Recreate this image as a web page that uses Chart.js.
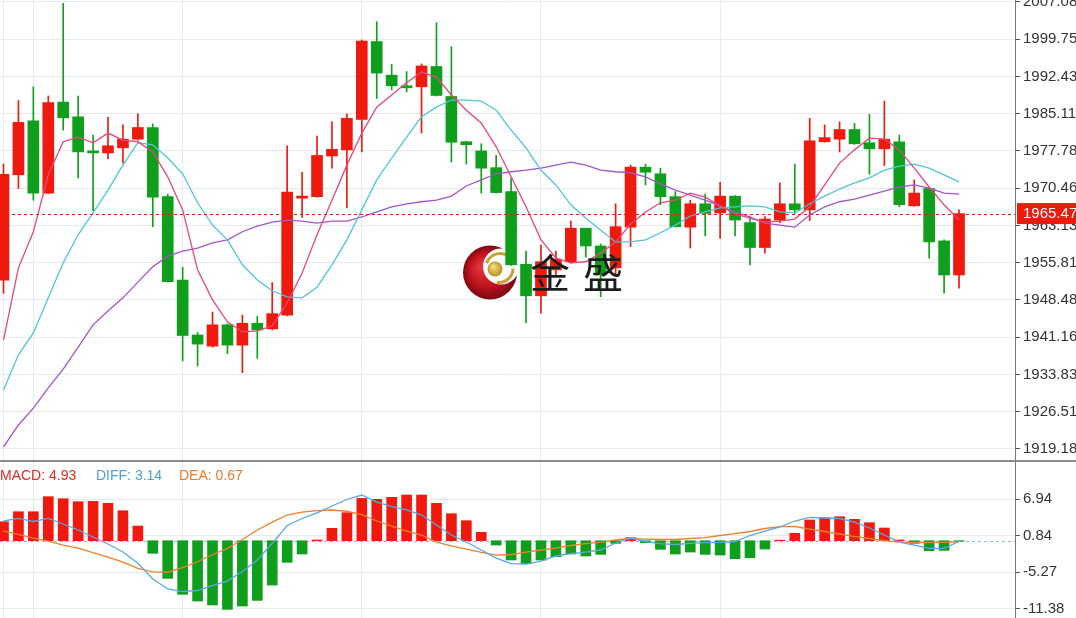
<!DOCTYPE html>
<html>
<head>
<meta charset="utf-8">
<title>K线 MACD</title>
<script src="https://cdn.jsdelivr.net/npm/chart.js"></script>
<style>
  html, body { margin: 0; padding: 0; background: #fff; }
  #wrap { position: relative; width: 1076px; height: 618px; overflow: hidden; }
  #mainBox { position: absolute; left: 0; top: 0; width: 1076px; height: 461px; }
  #macdBox { position: absolute; left: 0; top: 462px; width: 1076px; height: 156px; }
  #divider { position: absolute; left: 0; top: 460px; width: 1076px; height: 2px; background: #8a8a8a; }
</style>
</head>
<body>
<div id="wrap">
  <div id="mainBox"><canvas id="mainChart" width="1076" height="461"></canvas></div>
  <div id="divider"></div>
  <div id="macdBox"><canvas id="macdChart" width="1076" height="156"></canvas></div>
</div>
<script>
// K线数据（开、高、低、收）
const opens = [1952.4, 1973.1, 1983.7, 1969.5, 1987.4, 1984.5, 1977.8, 1977.4, 1978.4, 1980.1,
  1982.4, 1968.8, 1952.4, 1941.6, 1939.4, 1943.6, 1939.6, 1943.9, 1942.8, 1945.5,
  1968.5, 1968.8, 1976.8, 1978.0, 1984.0, 1999.3, 1992.7, 1990.6, 1990.4, 1994.4,
  1988.5, 1979.6, 1977.8, 1974.5, 1969.8, 1955.5, 1949.3, 1954.4, 1956.0, 1962.6,
  1959.1, 1954.8, 1962.8, 1974.6, 1973.3, 1968.8, 1962.8, 1967.4, 1965.6, 1968.9,
  1963.7, 1958.8, 1964.2, 1967.4, 1966.2, 1979.6, 1980.1, 1982.0, 1979.4, 1978.2,
  1979.6, 1967.0, 1970.4, 1960.1, 1953.4];
const highs = [1975.2, 1987.7, 1990.4, 1988.6, 2006.8, 1988.6, 1980.9, 1984.4, 1982.9, 1985.1,
  1983.1, 1969.3, 1954.9, 1942.1, 1946.1, 1943.8, 1945.5, 1945.3, 1951.9, 1978.8,
  1973.6, 1980.7, 1983.5, 1985.1, 1999.6, 2003.2, 1994.8, 1993.4, 1994.9, 2003.0,
  1998.3, 1979.7, 1979.2, 1976.9, 1972.4, 1958.1, 1959.3, 1958.1, 1964.0, 1962.6,
  1959.5, 1967.4, 1975.0, 1975.2, 1974.4, 1969.8, 1968.1, 1969.3, 1971.6, 1969.0,
  1965.0, 1964.9, 1971.5, 1975.2, 1984.2, 1982.9, 1983.5, 1983.2, 1985.0, 1987.6,
  1980.9, 1972.1, 1970.7, 1960.3, 1966.2];
const lows = [1949.8, 1970.4, 1968.1, 1969.4, 1981.9, 1972.5, 1966.0, 1976.2, 1975.4, 1979.9,
  1962.9, 1952.0, 1936.5, 1935.5, 1939.2, 1937.9, 1934.2, 1937.0, 1942.6, 1945.4,
  1964.7, 1968.7, 1974.4, 1966.6, 1977.6, 1988.1, 1989.8, 1989.4, 1981.3, 1988.6,
  1975.6, 1975.2, 1969.5, 1969.5, 1955.3, 1944.0, 1945.9, 1953.4, 1955.7, 1956.9,
  1949.1, 1953.4, 1959.0, 1971.1, 1967.2, 1962.8, 1958.7, 1961.1, 1960.6, 1961.1,
  1955.4, 1957.7, 1963.7, 1965.5, 1964.1, 1979.5, 1977.6, 1979.1, 1973.2, 1974.9,
  1966.8, 1966.9, 1956.7, 1949.8, 1950.8];
const closes = [1973.2, 1983.4, 1969.5, 1987.3, 1984.3, 1977.6, 1977.4, 1978.8, 1980.1, 1982.4,
  1968.7, 1952.1, 1941.5, 1939.8, 1943.6, 1939.6, 1943.9, 1942.6, 1945.8, 1969.7,
  1968.9, 1976.9, 1978.1, 1984.2, 1999.4, 1993.1, 1990.6, 1990.2, 1994.5, 1988.7,
  1979.5, 1979.0, 1974.4, 1969.6, 1955.4, 1949.3, 1956.0, 1956.5, 1962.6, 1959.1,
  1953.4, 1962.9, 1974.6, 1973.6, 1968.8, 1962.9, 1967.4, 1965.5, 1968.9, 1964.2,
  1958.8, 1964.4, 1967.4, 1966.2, 1979.8, 1980.4, 1982.0, 1979.2, 1978.2, 1980.1,
  1967.2, 1969.5, 1959.9, 1953.4, 1965.47];

// 均线
const ma5 = [1940.6, 1954.8, 1961.9, 1973.1, 1979.6, 1980.5, 1979.4, 1981.3, 1979.9, 1979.6,
  1977.6, 1972.7, 1966.2, 1954.4, 1948.5, 1944.2, 1942.2, 1942.4, 1943.4, 1947.9,
  1953.8, 1961.3, 1968.1, 1975.0, 1981.3, 1986.4, 1988.8, 1991.2, 1993.3, 1992.3,
  1988.8, 1985.8, 1983.3, 1978.6, 1972.7, 1966.8, 1960.3, 1956.7, 1955.8, 1956.0,
  1957.7, 1959.9, 1963.4, 1965.8, 1967.6, 1968.1, 1969.5, 1968.7, 1967.0, 1965.4,
  1964.6, 1963.8, 1964.0, 1964.4, 1966.8, 1971.1, 1975.4, 1978.0, 1980.3, 1980.1,
  1978.0, 1974.4, 1970.7, 1967.2, 1964.2];
const ma10 = [1930.8, 1937.7, 1942.0, 1948.9, 1955.8, 1961.3, 1965.6, 1970.1, 1975.0, 1979.4,
  1979.0, 1976.4, 1973.3, 1967.6, 1963.2, 1960.3, 1955.4, 1952.4, 1950.3, 1949.1,
  1948.9, 1951.0, 1955.4, 1960.3, 1966.2, 1972.1, 1976.4, 1980.5, 1984.5, 1986.4,
  1987.8, 1987.8, 1987.6, 1985.8, 1981.9, 1978.4, 1974.0, 1971.1, 1967.2, 1964.6,
  1962.2, 1959.9, 1959.9, 1960.3, 1961.7, 1963.2, 1965.0, 1965.8, 1966.6, 1966.8,
  1967.0, 1966.8, 1965.8, 1965.6, 1967.4, 1968.9, 1970.3, 1971.5, 1972.5, 1974.0,
  1974.8, 1975.2, 1974.4, 1973.1, 1971.7];
const ma20 = [1919.6, 1923.9, 1927.2, 1931.2, 1934.9, 1939.2, 1943.6, 1946.3, 1948.9, 1952.0,
  1955.0, 1957.1, 1958.1, 1958.7, 1959.7, 1960.3, 1961.9, 1963.0, 1963.8, 1964.2,
  1964.0, 1963.6, 1964.0, 1964.0, 1964.8, 1965.8, 1966.8, 1967.4, 1967.8, 1968.1,
  1968.9, 1970.9, 1972.1, 1973.3, 1973.7, 1974.0, 1974.4, 1975.0, 1975.6, 1975.0,
  1974.0, 1973.7, 1973.5, 1972.7, 1971.3, 1970.1, 1969.1, 1968.1, 1967.0, 1965.8,
  1964.8, 1963.6, 1963.2, 1962.8, 1965.2, 1966.8, 1967.8, 1968.3, 1969.1, 1969.9,
  1970.7, 1971.1, 1970.5, 1969.5, 1969.3];

// MACD
const macdHist = [3.17, 4.84, 4.84, 7.35, 7.01, 6.51, 6.57, 6.24, 5.01, 2.45,
  -2.10, -6.28, -8.95, -10.07, -10.73, -11.46, -10.90, -9.96, -7.40, -3.61,
  -2.22, 0.12, 2.07, 4.68, 7.07, 6.91, 7.24, 7.63, 7.63, 6.24,
  4.51, 3.34, 1.40, -0.72, -3.22, -3.84, -3.22, -2.67, -2.22, -2.55,
  -2.28, -0.44, 0.50, -0.33, -1.44, -2.22, -1.89, -2.28, -2.39, -3.00,
  -2.83, -1.39, 0.10, 1.23, 3.46, 3.84, 4.01, 3.57, 3.01, 2.12,
  0.12, -0.44, -1.67, -1.61, -0.10];
const diffLine = [3.29, 3.74, 3.21, 3.74, 2.79, 1.79, 0.62, -0.55, -1.89, -3.77,
  -6.39, -8.06, -8.48, -8.31, -7.48, -6.73, -5.14, -3.22, -0.43, 2.54,
  3.71, 4.66, 5.79, 6.88, 7.63, 6.46, 5.68, 5.13, 4.29, 2.62,
  0.95, -0.22, -1.55, -2.89, -3.81, -3.89, -3.39, -2.55, -2.14, -1.89,
  -1.55, -0.38, 0.45, -0.13, -0.47, -0.63, -0.43, -0.33, -0.27, -0.13,
  0.87, 1.62, 2.29, 3.29, 3.91, 3.79, 3.71, 3.12, 2.12, 0.95,
  -0.22, -0.72, -1.27, -1.27, -0.13];
const deaLine = [1.62, 1.07, 0.45, -0.05, -0.72, -1.22, -1.97, -2.72, -3.56, -4.61,
  -5.19, -5.26, -4.50, -3.51, -2.30, -1.27, 0.20, 1.79, 3.10, 4.29,
  4.76, 5.02, 5.13, 4.92, 4.35, 3.29, 2.45, 1.62, 0.95, -0.22,
  -0.88, -1.39, -1.94, -2.39, -2.30, -1.89, -1.55, -1.22, -0.80, -0.47,
  -0.22, 0.12, 0.37, 0.28, 0.20, 0.20, 0.37, 0.53, 0.87, 1.20,
  1.54, 2.04, 2.34, 2.37, 1.95, 1.54, 1.12, 0.70, 0.37, 0.03,
  -0.22, -0.30, -0.30, -0.27, -0.17];

// 坐标轴刻度
const priceTicks = [2007.08, 1999.75, 1992.43, 1985.11, 1977.78, 1970.46, 1963.13,
  1955.81, 1948.48, 1941.16, 1933.83, 1926.51, 1919.18];
const macdTicks = [6.94, 0.84, -5.27, -11.38];
const gridIdx = [0, 2, 12, 24, 36, 48];
const legendText = ['MACD: 4.93', 'DIFF: 3.14', 'DEA: 0.67'];
const lastPrice = 1965.47;

const RED = '#f0190d';
const GREEN = '#0f9f1c';
const GRID = '#e6ebf1';
const FONT = 'Liberation Sans';

const idx = closes.map((_, i) => i);
const candleColor = idx.map(i => closes[i] >= opens[i] ? RED : GREEN);

function xScale() {
  return {
    type: 'linear', min: -0.234, max: 67.75, offset: false,
    afterBuildTicks: s => { s.ticks = gridIdx.map(v => ({ value: v })); },
    afterFit: s => { s.height = 0; },
    ticks: { display: false },
    grid: { color: GRID, drawTicks: false, offset: false },
    border: { display: false }
  };
}

function yScale(min, max, tickList) {
  return {
    position: 'right', min: min, max: max,
    afterBuildTicks: s => { s.ticks = tickList.map(v => ({ value: v })); },
    afterFit: s => { s.width = 61; s.paddingTop = 0; s.paddingBottom = 0; },
    ticks: {
      color: '#333', padding: 3, autoSkip: false,
      font: { family: FONT, size: 15 },
      callback: v => v.toFixed(2)
    },
    grid: { color: GRID, tickColor: '#555', tickLength: 5 },
    border: { color: '#777' }
  };
}

function lineSet(label, arr, color) {
  return {
    type: 'line', label: label,
    data: idx.map(i => ({ x: i, y: arr[i] })),
    borderColor: color, borderWidth: 1.3, pointRadius: 0, tension: 0, order: 1
  };
}

// 水印 + 当前价
const mainOverlay = {
  id: 'mainOverlay',
  beforeDatasetsDraw(chart) {
    const ctx = chart.ctx, a = chart.chartArea;
    const cx = a.left + 490, cy = a.top + 272.5;
    ctx.save();
    let g = ctx.createRadialGradient(cx - 9, cy - 6, 3, cx, cy, 27);
    g.addColorStop(0, '#e2323a');
    g.addColorStop(0.6, '#bd111c');
    g.addColorStop(1, '#7c0a12');
    ctx.fillStyle = g;
    ctx.beginPath(); ctx.arc(cx, cy, 27, 0, Math.PI * 2); ctx.fill();
    ctx.fillStyle = '#fff';
    ctx.beginPath(); ctx.arc(cx + 11, cy - 6, 18, 0, Math.PI * 2); ctx.fill();
    ctx.strokeStyle = '#c9a233'; ctx.lineWidth = 3;
    ctx.beginPath(); ctx.arc(cx + 10, cy - 5, 14, Math.PI * 1.1, Math.PI * 1.7); ctx.stroke();
    ctx.beginPath(); ctx.arc(cx + 9, cy - 4, 14, Math.PI * 0.0, Math.PI * 0.55); ctx.stroke();
    g = ctx.createRadialGradient(cx + 3, cy - 6, 1, cx + 5, cy - 3.5, 8);
    g.addColorStop(0, '#f4de7c');
    g.addColorStop(1, '#b38a1d');
    ctx.fillStyle = g;
    ctx.beginPath(); ctx.arc(cx + 5, cy - 3.5, 7.5, 0, Math.PI * 2); ctx.fill();
    ctx.restore();
  },
  afterDatasetsDraw(chart) {
    const ctx = chart.ctx, a = chart.chartArea;
    ctx.save();
    ctx.fillStyle = '#1c1c1c';
    ctx.font = '40px "Noto Sans CJK SC"';
    ctx.textBaseline = 'middle';
    ctx.fillText('金', a.left + 530, a.top + 273);
    ctx.fillText('盛', a.left + 583, a.top + 273);
    const y = Math.round(chart.scales.y.getPixelForValue(lastPrice)) + 0.5;
    ctx.strokeStyle = RED; ctx.lineWidth = 1; ctx.setLineDash([3, 3]);
    ctx.beginPath(); ctx.moveTo(a.left, y); ctx.lineTo(a.right, y); ctx.stroke();
    ctx.restore();
  },
  afterDraw(chart) {
    const ctx = chart.ctx, a = chart.chartArea;
    const y = chart.scales.y.getPixelForValue(lastPrice);
    ctx.save();
    ctx.fillStyle = RED;
    ctx.fillRect(a.right + 2, y - 10.5, chart.width - a.right - 2, 21);
    ctx.fillStyle = '#fff';
    ctx.font = '15px "' + FONT + '"';
    ctx.textBaseline = 'middle';
    ctx.fillText(lastPrice.toFixed(2), a.right + 8, y + 0.5);
    ctx.restore();
  }
};

new Chart(document.getElementById('mainChart').getContext('2d'), {
  type: 'bar',
  data: {
    datasets: [
      lineSet('MA5', ma5, '#e8467c'),
      lineSet('MA10', ma10, '#4fc6d6'),
      lineSet('MA20', ma20, '#a455c4'),
      {
        type: 'bar', label: 'body',
        data: idx.map(i => ({ x: i, y: [opens[i], closes[i]] })),
        backgroundColor: candleColor, barThickness: 11, grouped: false,
        minBarLength: 1, order: 2
      },
      {
        type: 'bar', label: 'wick',
        data: idx.map(i => ({ x: i, y: [lows[i], highs[i]] })),
        backgroundColor: candleColor, barThickness: 1, grouped: false, order: 3
      }
    ]
  },
  options: {
    responsive: false, animation: false,
    layout: { autoPadding: false, padding: 0 },
    plugins: { legend: { display: false }, tooltip: { enabled: false } },
    scales: { x: xScale(), y: yScale(1916.82, 2007.47, priceTicks) }
  },
  plugins: [mainOverlay]
});

// MACD 副图
const macdOverlay = {
  id: 'macdOverlay',
  beforeDatasetsDraw(chart) {
    const ctx = chart.ctx, a = chart.chartArea;
    const y = Math.round(chart.scales.y.getPixelForValue(0)) + 0.5;
    ctx.save();
    ctx.strokeStyle = '#8fc3e6'; ctx.lineWidth = 1; ctx.setLineDash([3, 3]);
    ctx.beginPath(); ctx.moveTo(a.left, y); ctx.lineTo(a.right, y); ctx.stroke();
    ctx.restore();
  },
  afterDraw(chart) {
    const ctx = chart.ctx;
    const colors = ['#e8281e', '#4d9fe0', '#f07b26'];
    const xs = [0, 96, 179];
    ctx.save();
    ctx.font = '14px "' + FONT + '"';
    ctx.textBaseline = 'middle';
    legendText.forEach((t, k) => { ctx.fillStyle = colors[k]; ctx.fillText(t, xs[k], 14); });
    ctx.restore();
  }
};

new Chart(document.getElementById('macdChart').getContext('2d'), {
  type: 'bar',
  data: {
    datasets: [
      {
        type: 'line', label: 'DIFF',
        data: idx.map(i => ({ x: i, y: diffLine[i] })),
        borderColor: '#5aa6e6', borderWidth: 1.3, pointRadius: 0, tension: 0, order: 1
      },
      {
        type: 'line', label: 'DEA',
        data: idx.map(i => ({ x: i, y: deaLine[i] })),
        borderColor: '#f07f2c', borderWidth: 1.3, pointRadius: 0, tension: 0, order: 1
      },
      {
        type: 'bar', label: 'MACD',
        data: idx.map(i => ({ x: i, y: macdHist[i] })),
        backgroundColor: macdHist.map(v => v >= 0 ? RED : GREEN),
        barThickness: 10, grouped: false, order: 2
      }
    ]
  },
  options: {
    responsive: false, animation: false,
    layout: { autoPadding: false, padding: 0 },
    plugins: { legend: { display: false }, tooltip: { enabled: false } },
    scales: { x: xScale(), y: yScale(-12.90, 13.14, macdTicks) }
  },
  plugins: [macdOverlay]
});
</script>
</body>
</html>
